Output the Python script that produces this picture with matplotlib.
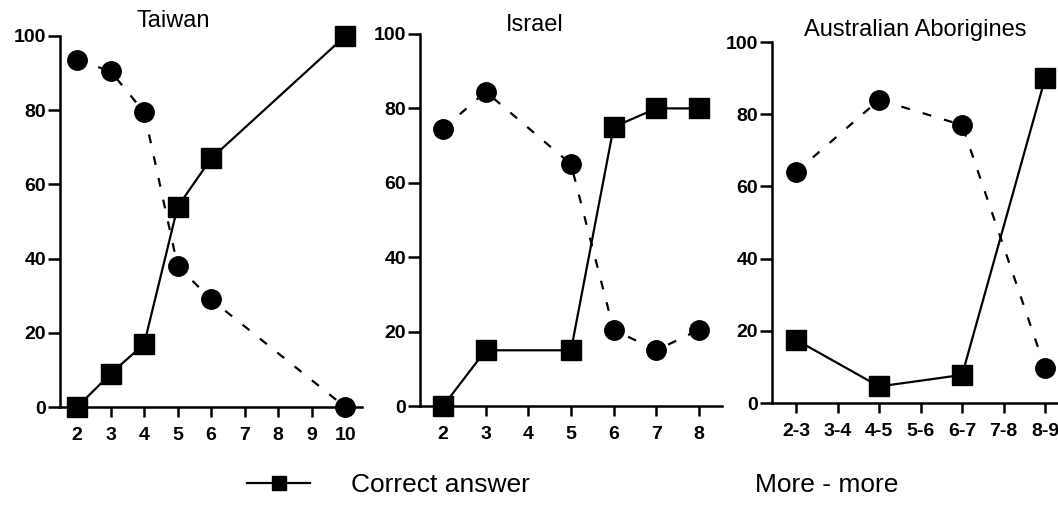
import matplotlib
matplotlib.use("Agg")
import matplotlib.pyplot as plt

plt.rcParams['font.family'] = ['Liberation Sans', 'DejaVu Sans']

# Taiwan
tw_x = [2, 3, 4, 5, 6, 10]
tw_correct = [0, 9, 17, 54, 67, 100]
tw_more = [93.5, 90.5, 79.5, 38, 29, 0]
tw_ticks = [2, 3, 4, 5, 6, 7, 8, 9, 10]

# Israel
il_x = [2, 3, 5, 6, 7, 8]
il_correct = [0, 15, 15, 75, 80, 80]
il_more = [74.5, 84.5, 65, 20.5, 15, 20.5]
il_ticks = [2, 3, 4, 5, 6, 7, 8]

# Australian Aborigines
au_cats = ['2-3', '3-4', '4-5', '5-6', '6-7', '7-8', '8-9']
au_x = ['2-3', '4-5', '6-7', '8-9']
au_correct = [17.5, 4.6, 7.8, 90]
au_more = [64, 84, 77, 9.7]

fig = plt.figure(figsize=(10.58, 5.07), dpi=100)

ax1 = fig.add_axes([0.0567, 0.197, 0.2855, 0.732])
ax2 = fig.add_axes([0.397, 0.199, 0.2854, 0.734])
ax3 = fig.add_axes([0.7297, 0.205, 0.2703, 0.712])

def style(ax):
    for s in ['top', 'right']:
        ax.spines[s].set_visible(False)
    for s in ['left', 'bottom']:
        ax.spines[s].set_linewidth(1.8)
    ax.set_ylim(0, 100)
    ax.set_yticks([0, 20, 40, 60, 80, 100])
    ax.tick_params(direction='out', width=1.8, labelsize=14)
    ax.tick_params(axis='x', length=7, pad=7)
    ax.tick_params(axis='y', length=9, pad=1)
    for lab in ax.get_xticklabels() + ax.get_yticklabels():
        lab.set_fontweight('bold')

sq = dict(color='black', marker='s', markersize=15, linewidth=1.6, clip_on=False, zorder=3)
ci = dict(color='black', marker='o', markersize=14, linestyle=(0, (4, 6)), linewidth=1.6,
          clip_on=False, zorder=2)

line_sq, = ax1.plot(tw_x, tw_correct, **sq)
ax1.plot(tw_x, tw_more, **ci)
ax1.set_xlim(1.49, 10.5)
ax1.set_xticks(tw_ticks)
style(ax1)

ax2.plot(il_x, il_correct, **sq)
ax2.plot(il_x, il_more, **ci)
ax2.set_xlim(1.46, 8.54)
ax2.set_xticks(il_ticks)
style(ax2)

pos = {c: i for i, c in enumerate(au_cats)}
ax3.plot([pos[c] for c in au_x], au_correct, **sq)
ax3.plot([pos[c] for c in au_x], au_more, **ci)
ax3.set_xlim(-0.58, 6.31)
ax3.set_xticks(range(len(au_cats)))
ax3.set_xticklabels(au_cats)
style(ax3)

fig.text(173 / 1058, 1 - 21 / 507, 'Taiwan', fontsize=17, ha='center', va='center')
fig.text(535 / 1058, 1 - 25 / 507, 'Israel', fontsize=17, ha='center', va='center')
fig.text(915 / 1058, 1 - 30 / 507, 'Australian Aborigines', fontsize=17, ha='center', va='center')

fig.legend([line_sq], ['Correct answer'], loc='center left', bbox_to_anchor=(0.211, 0.043),
           frameon=False, fontsize=19, markerscale=0.7, handlelength=2.4, handletextpad=1.55)
fig.text(755 / 1058, 0.043, 'More - more', fontsize=19, va='center', ha='left')

fig.savefig('out.png', dpi=100)
